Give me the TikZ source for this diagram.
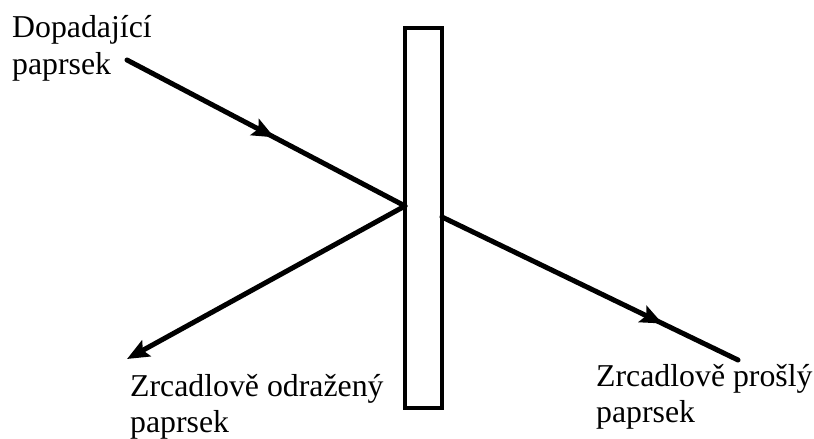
\documentclass[tikz,border=0pt]{standalone}
\usepackage{fontspec}
\setmainfont{Liberation Serif}
\usetikzlibrary{arrows.meta,decorations.markings}
\begin{document}
\begin{tikzpicture}[x=1pt,y=-1pt,
  >={Stealth[length=22pt,width=18pt,inset=4pt]},
  ray/.style={line width=5pt,line cap=round},
  midarrow/.style={postaction={decorate},decoration={markings,mark=at position #1 with {\arrow{>}}}},
  lbl/.style={anchor=base west,inner sep=0pt,align=left,font=\fontsize{31.8}{36}\selectfont}]
\useasboundingbox (0,0) rectangle (814,439);
\node[draw,line width=4.5pt,minimum width=37pt,minimum height=380pt,inner sep=0pt] (mirror) at (423.5,218) {};
\coordinate (inS) at (127,60);
\coordinate (hitL) at (405,206);
\coordinate (refE) at (127,359);
\coordinate (hitR) at (442,217);
\coordinate (trE) at (738,360);
\draw[ray,midarrow=0.53] (inS) -- (hitL);
\draw[ray,->] (hitL) -- (refE);
\draw[ray,midarrow=0.745] (hitR) -- (trE);
\node[lbl] (l1) at (12,74) {Dopadající\\paprsek};
\node[lbl] (l2) at (130,432) {Zrcadlově odražený\\paprsek};
\node[lbl] (l3) at (596,422) {Zrcadlově prošlý\\paprsek};
\end{tikzpicture}
\end{document}
